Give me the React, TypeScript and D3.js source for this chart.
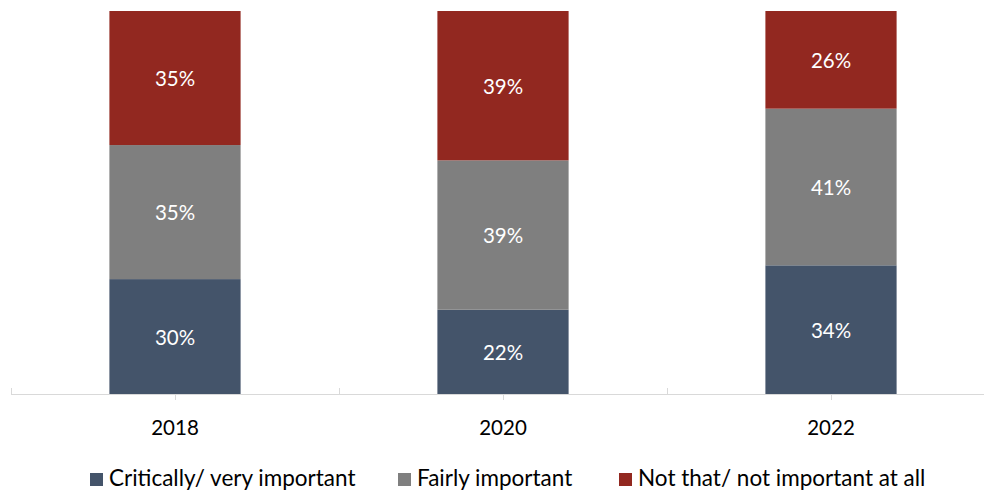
import React from "react";
import * as d3 from "d3";

const categories = ["2018", "2020", "2022"];
const seriesNames = ["Critically/ very important", "Fairly important", "Not that/ not important at all"];
const critical = [30, 22, 33.6];
const fairly = [35, 39, 40.9];
const notImportant = [35, 39, 25.5];
const colors = ["#44546A", "#7F7F7F", "#922820"];

const W = 984, H = 490;
const axisY = 394, topY = 11;
const left = 11, right = 995;
const font = "Lato, 'Open Sans', sans-serif";

export default function App() {
  const x = d3.scaleBand<string>().domain(categories).range([left, right]).paddingInner(0).paddingOuter(0);
  const y = d3.scaleLinear().domain([0, 100]).range([axisY, topY]);
  const rows = categories.map((c, i) => ({ cat: c, critical: critical[i], fairly: fairly[i], notImportant: notImportant[i] }));
  const stack = d3.stack<any>().keys(["critical", "fairly", "notImportant"])(rows);
  const bw = x.bandwidth() * 0.4;

  const legendItems = [
    { x: 90, name: seriesNames[0], color: colors[0] },
    { x: 398, name: seriesNames[1], color: colors[1] },
    { x: 619, name: seriesNames[2], color: colors[2] },
  ];

  return (
    <svg width={W} height={H} style={{ position: "absolute", left: 0, top: 0, background: "#fff" }}>
      {stack.map((s, si) => (
        <g key={si} fill={colors[si]}>
          {s.map((d, i) => {
            const cx = x(categories[i])! + x.bandwidth() / 2;
            const y0 = y(d[0]), y1 = y(d[1]);
            return (
              <g key={i}>
                <rect x={cx - bw / 2} y={y1} width={bw} height={y0 - y1} />
                <text x={cx} y={(y0 + y1) / 2 + 1} dy="0.35em" textAnchor="middle" fill="#fff" fontSize={20.5} fontFamily={font}>
                  {Math.round(d[1] - d[0])}%
                </text>
              </g>
            );
          })}
        </g>
      ))}
      <line x1={left} x2={right} y1={axisY + 0.5} y2={axisY + 0.5} stroke="#D9D9D9" strokeWidth={1} />
      {categories.map((c, i) => (
        <line key={"b" + i} x1={x(c)! + 0.5} x2={x(c)! + 0.5} y1={axisY - 6} y2={axisY} stroke="#D9D9D9" />
      ))}
      {categories.map((c, i) => {
        const cx = x(c)! + x.bandwidth() / 2;
        return (
          <g key={"t" + i}>
            <line x1={cx + 0.5} x2={cx + 0.5} y1={axisY} y2={axisY + 6} stroke="#D9D9D9" />
            <text x={cx} y={435} textAnchor="middle" fontSize={20.5} fontFamily={font} fill="#000">{c}</text>
          </g>
        );
      })}
      {legendItems.map((l, i) => (
        <g key={"l" + i}>
          <rect x={l.x} y={473} width={13} height={13} fill={l.color} />
          <text x={l.x + 19} y={486} fontSize={22.5} fontFamily={font} fill="#000">{l.name}</text>
        </g>
      ))}
    </svg>
  );
}
